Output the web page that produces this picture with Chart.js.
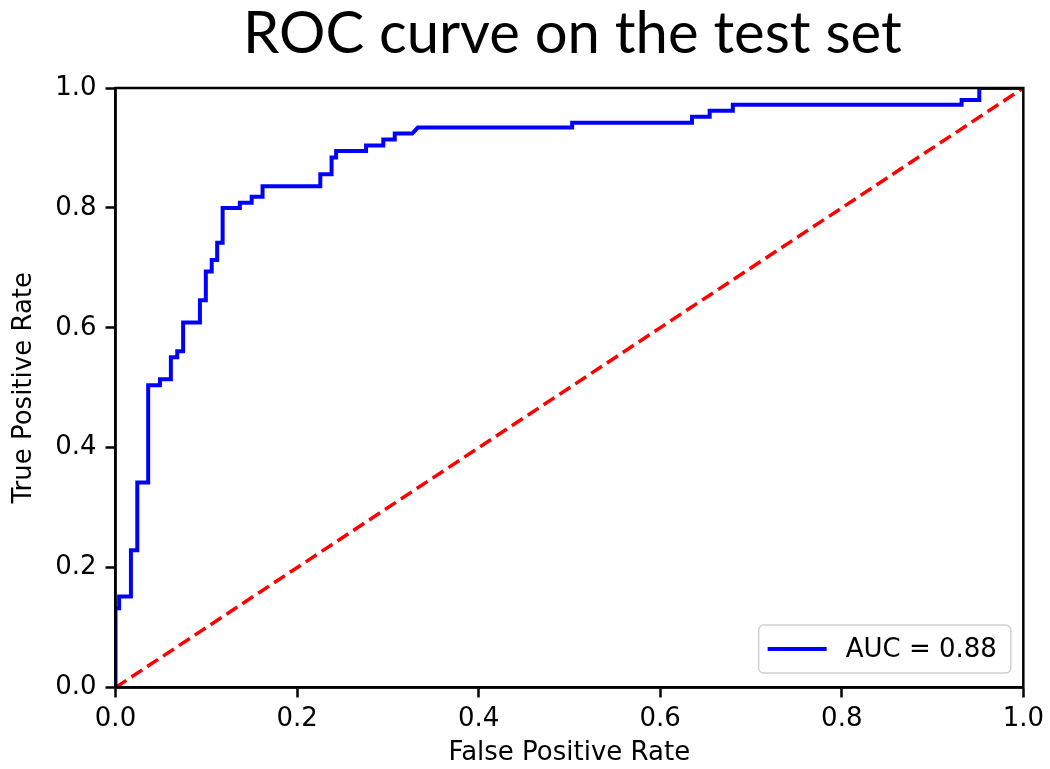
<!DOCTYPE html>
<html>
<head>
<meta charset="utf-8">
<script src="https://cdn.jsdelivr.net/npm/chart.js@4.4.1/dist/chart.umd.min.js"></script>
<style>
  html, body { margin: 0; padding: 0; background: #fff; }
  #wrap { width: 1050px; height: 769px; position: relative; }
</style>
</head>
<body>
<div id="wrap"><canvas id="c" width="1050" height="769"></canvas></div>
<script>
// ---- data ----
const chartTitle = 'ROC curve on the test set';
const xAxisTitle = 'False Positive Rate';
const yAxisTitle = 'True Positive Rate';
const legendLabel = 'AUC = 0.88';
const fpr = [0, 0, 0.004, 0.004, 0.017, 0.017, 0.024, 0.024, 0.036, 0.036, 0.049, 0.049, 0.061, 0.061,
  0.068, 0.068, 0.0745, 0.0745, 0.093, 0.093, 0.0995, 0.0995, 0.106, 0.106, 0.112, 0.112, 0.118, 0.118,
  0.137, 0.137, 0.150, 0.150, 0.162, 0.162, 0.2256, 0.2256, 0.238, 0.238, 0.243, 0.243, 0.276, 0.276,
  0.295, 0.295, 0.3076, 0.3076, 0.327, 0.333, 0.503, 0.503, 0.635, 0.635, 0.6545, 0.6545, 0.680, 0.680,
  0.932, 0.932, 0.9515, 0.9515, 1.0];
const tpr = [0, 0.132, 0.132, 0.152, 0.152, 0.229, 0.229, 0.342, 0.342, 0.504, 0.504, 0.514, 0.514, 0.551,
  0.551, 0.561, 0.561, 0.609, 0.609, 0.646, 0.646, 0.694, 0.694, 0.713, 0.713, 0.742, 0.742, 0.800,
  0.800, 0.8085, 0.8085, 0.8185, 0.8185, 0.836, 0.836, 0.856, 0.856, 0.884, 0.884, 0.895, 0.895, 0.904,
  0.904, 0.914, 0.914, 0.924, 0.924, 0.934, 0.934, 0.942, 0.942, 0.952, 0.952, 0.962, 0.962, 0.972,
  0.972, 0.980, 0.980, 1.0, 1.0];
const chanceX = [0, 1];
const chanceY = [0, 1];
const xTickLabels = ['0.0', '0.2', '0.4', '0.6', '0.8', '1.0'];
const yTickLabels = ['0.0', '0.2', '0.4', '0.6', '0.8', '1.0'];

// ---- plugins ----
const frameAndDecor = {
  id: 'frameAndDecor',
  afterDatasetsDraw(chart) {
    const { ctx, chartArea: a } = chart;
    ctx.save();
    // full frame (matplotlib spines)
    ctx.strokeStyle = '#000';
    ctx.lineWidth = 2.5;
    ctx.strokeRect(a.left, a.top, a.right - a.left, a.bottom - a.top);

    // legend box (lower right)
    ctx.font = '26px "DejaVu Sans"';
    const tw = ctx.measureText(legendLabel).width;
    const padL = 9, handle = 59, gap = 19, padR = 14;
    const w = padL + handle + gap + tw + padR;
    const h = 48;
    const x = a.right - 12.5 - w;
    const y = a.bottom - 14.5 - h;
    ctx.beginPath();
    ctx.roundRect(x, y, w, h, 5);
    ctx.fillStyle = 'rgba(255,255,255,0.85)';
    ctx.fill();
    ctx.strokeStyle = '#d0d0d0';
    ctx.lineWidth = 1.5;
    ctx.stroke();
    const ds = chart.data.datasets[0];
    ctx.beginPath();
    ctx.moveTo(x + padL, y + h / 2);
    ctx.lineTo(x + padL + handle, y + h / 2);
    ctx.strokeStyle = ds.borderColor;
    ctx.lineWidth = 4;
    ctx.stroke();
    ctx.fillStyle = '#000';
    ctx.textBaseline = 'middle';
    ctx.textAlign = 'left';
    ctx.fillText(ds.label, x + padL + handle + gap, y + h / 2 + 1);

    // chart title
    ctx.font = '58px Lato';
    ctx.textAlign = 'center';
    ctx.textBaseline = 'alphabetic';
    ctx.fillText(chartTitle, (a.left + a.right) / 2 + 3, 53);
    ctx.restore();
  }
};

const tickFont = { family: 'DejaVu Sans', size: 26 };

new Chart(document.getElementById('c'), {
  type: 'scatter',
  data: {
    datasets: [
      {
        label: legendLabel,
        data: fpr.map((v, i) => ({ x: v, y: tpr[i] })),
        showLine: true,
        borderColor: '#0000ff',
        borderWidth: 4,
        pointRadius: 0,
        tension: 0,
        fill: false
      },
      {
        label: 'chance',
        data: chanceX.map((v, i) => ({ x: v, y: chanceY[i] })),
        showLine: true,
        borderColor: '#ff0000',
        borderWidth: 3.5,
        borderDash: [13, 6],
        pointRadius: 0,
        fill: false
      }
    ]
  },
  options: {
    responsive: false,
    animation: false,
    layout: { padding: { top: 88, right: 25.5, bottom: 0, left: 0 } },
    plugins: {
      legend: { display: false },
      title: { display: false },
      tooltip: { enabled: false }
    },
    scales: {
      x: {
        type: 'linear',
        min: 0, max: 1,
        afterFit(s) { s.height = 81.5; },
        ticks: {
          stepSize: 0.2,
          font: tickFont,
          color: '#000',
          padding: 6,
          maxRotation: 0,
          callback: (v, i) => xTickLabels[i]
        },
        grid: { display: true, drawOnChartArea: false, drawTicks: true, tickLength: 10, tickWidth: 2.5, tickColor: '#000' },
        border: { display: true, color: '#000', width: 2.5 },
        title: { display: true, text: xAxisTitle, font: tickFont, color: '#000', padding: { top: 0, bottom: 0 } }
      },
      y: {
        type: 'linear',
        min: 0, max: 1,
        afterFit(s) { s.width = 115.5; },
        ticks: {
          stepSize: 0.2,
          font: tickFont,
          color: '#000',
          padding: 9,
          callback: (v, i) => yTickLabels[i]
        },
        grid: { display: true, drawOnChartArea: false, drawTicks: true, tickLength: 10, tickWidth: 2.5, tickColor: '#000' },
        border: { display: true, color: '#000', width: 2.5 },
        title: { display: true, text: yAxisTitle, font: tickFont, color: '#000', padding: { top: 9, bottom: 0 } }
      }
    }
  },
  plugins: [frameAndDecor]
});
</script>
</body>
</html>
